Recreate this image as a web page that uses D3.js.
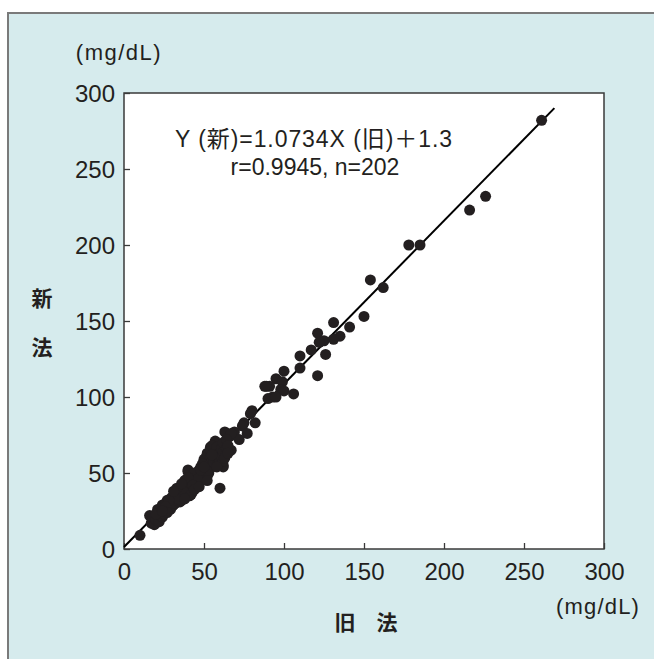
<!DOCTYPE html>
<html>
<head>
<meta charset="utf-8">
<script src="https://cdn.jsdelivr.net/npm/d3@7"></script>
<style>
  body { margin: 0; background: #ffffff; }
  svg { display: block; }
</style>
</head>
<body>
<div id="chart"></div>
<script>
// 旧法 (x) vs 新法 (y), mg/dL
var oldVals = [
  261, 226, 216, 185, 178, 162, 154, 150, 141, 131, 121, 135, 131, 125, 122, 126, 117, 110, 110, 121,
  100, 95, 99, 98, 106, 100, 93, 91, 89, 90, 95, 80, 79, 82, 75, 74, 69, 77, 63, 66,
  72, 57, 54, 60, 66, 52, 63, 50, 57, 62,
  88, 67, 63, 67, 62, 60, 52, 40, 38, 55,
  10, 16, 17, 18, 19, 20, 21, 22, 22, 23, 24, 24, 25, 25,
  26, 26, 27, 27, 28, 28, 29, 29, 30, 30,
  31, 31, 32, 32, 33, 33, 34, 34, 35, 35,
  36, 36, 37, 37, 38, 38, 38, 39, 39, 40, 40, 40,
  41, 41, 42, 42, 43, 43, 43, 44, 44, 45, 45, 45,
  46, 46, 47, 47, 47, 48, 48, 48, 49, 49, 50, 50, 50,
  51, 51, 51, 52, 52, 53, 53, 53, 54, 54, 54, 55, 55, 55,
  56, 56, 57, 57, 58, 58, 59, 59, 60, 60, 61, 61, 62, 62, 62, 63, 64, 64, 65, 65,
  30, 32, 35, 36, 39, 41, 44, 46, 49, 52, 34, 37, 28, 23, 20, 26, 40, 43, 48, 50,
  33, 36, 42, 44, 47, 52, 55, 58, 38, 27, 24, 31
];
var newVals = [
  282, 232, 223, 200, 200, 172, 177, 153, 146, 149, 142, 140, 138, 137, 136, 128, 131, 127, 119, 114,
  117, 112, 110, 105, 102, 104, 100, 107, 107, 99, 100, 91, 89, 83, 83, 81, 77, 76, 77, 74,
  72, 71, 67, 66, 65, 63, 61, 59, 56, 54,
  107, 76, 67, 65, 55, 40, 48, 52, 45, 67,
  9, 22, 17, 20, 16, 19, 26, 18, 23, 24, 29, 21, 27, 23,
  25, 30, 32, 28, 26, 30, 26, 33, 31, 28,
  35, 29, 30, 34, 36, 32, 39, 35, 31, 37,
  32, 38, 41, 35, 42, 45, 37, 40, 36, 51, 44, 39,
  35, 42, 46, 40, 45, 38, 49, 43, 47, 50, 41, 44,
  42, 48, 52, 45, 49, 54, 46, 50, 53, 47, 48, 56, 51,
  60, 53, 49, 55, 58, 52, 57, 50, 65, 60, 56, 68, 58, 54,
  62, 57, 59, 64, 67, 60, 62, 56, 63, 58, 66, 60, 64, 58, 70, 60, 72, 66, 68, 63,
  34, 37, 39, 35, 43, 45, 50, 46, 56, 51, 33, 38, 32, 27, 23, 28, 47, 42, 52, 54,
  40, 43, 36, 39, 41, 45, 62, 54, 33, 24, 25, 38
];
var xTicks = [0, 50, 100, 150, 200, 250, 300];
var yTicks = [0, 50, 100, 150, 200, 250, 300];
var slope = 1.0734;
var intercept = 1.3;
var lineEnd = 269;
var eqLine1 = "Y (新)=1.0734X (旧)＋1.3";
var eqLine2 = "r=0.9945, n=202";

var width = 654, height = 659;
var plotLeft = 124, plotRight = 604, plotTop = 93, plotBottom = 549;
var dotR = 5.5;
var dotColor = "#231f20";
var panelColor = "#d6ebed";
var latin = "'Liberation Sans', Arial, 'Noto Sans CJK JP', sans-serif";
var cjk = "'Noto Sans CJK JP', 'Liberation Sans', sans-serif";

var svg = d3.select("#chart").append("svg")
    .attr("width", width)
    .attr("height", height);

// panel
svg.append("rect")
    .attr("x", 8).attr("y", 13)
    .attr("width", width).attr("height", height)
    .attr("fill", panelColor);
svg.append("path")
    .attr("d", "M8," + height + "V13H" + width)
    .attr("fill", "none")
    .attr("stroke", "#7a7a7a")
    .attr("stroke-width", 2);

var x = d3.scaleLinear().domain([0, 300]).range([plotLeft, plotRight]);
var y = d3.scaleLinear().domain([0, 300]).range([plotBottom, plotTop]);

svg.append("rect")
    .attr("x", plotLeft).attr("y", plotTop)
    .attr("width", plotRight - plotLeft).attr("height", plotBottom - plotTop)
    .attr("fill", "#ffffff")
    .attr("stroke", "#3a3a3a")
    .attr("stroke-width", 1.5);

// inward ticks
var xAxis = svg.append("g")
    .attr("transform", "translate(0," + plotBottom + ")")
    .call(d3.axisBottom(x).tickValues(xTicks).tickSize(-6).tickPadding(14));
var yAxis = svg.append("g")
    .attr("transform", "translate(" + plotLeft + ",0)")
    .call(d3.axisLeft(y).tickValues(yTicks).tickSize(-6).tickPadding(9));
[xAxis, yAxis].forEach(function(g){
    g.select(".domain").remove();
    g.selectAll(".tick line").attr("stroke", "#3a3a3a").attr("stroke-width", 1.3);
    g.selectAll(".tick text")
        .attr("fill", "#231f20")
        .style("font-family", latin)
        .style("font-size", "24px");
});
xAxis.selectAll(".tick text").attr("dy", "0.71em");
yAxis.selectAll(".tick text").attr("dy", "0.36em");

// regression line
svg.append("line")
    .attr("x1", x(0)).attr("y1", y(intercept))
    .attr("x2", x(lineEnd)).attr("y2", y(slope * lineEnd + intercept))
    .attr("stroke", "#000000")
    .attr("stroke-width", 2);

var points = oldVals.map(function(d, i){ return {o: d, n: newVals[i]}; });
svg.append("g")
    .selectAll("circle")
    .data(points)
    .enter()
    .append("circle")
    .attr("cx", function(d){ return x(d.o); })
    .attr("cy", function(d){ return y(d.n); })
    .attr("r", dotR)
    .attr("fill", dotColor);

// equation
svg.append("text")
    .attr("x", 175).attr("y", 147)
    .attr("textLength", 277)
    .attr("lengthAdjust", "spacing")
    .attr("fill", "#231f20")
    .style("font-family", latin)
    .style("font-size", "23px")
    .text(eqLine1);
svg.append("text")
    .attr("x", 315).attr("y", 175)
    .attr("text-anchor", "middle")
    .attr("fill", "#231f20")
    .style("font-family", latin)
    .style("font-size", "23px")
    .text(eqLine2);

// units
svg.append("text")
    .attr("x", 119).attr("y", 60)
    .attr("text-anchor", "middle")
    .attr("fill", "#231f20")
    .style("font-family", latin)
    .style("font-size", "22px")
    .style("letter-spacing", "1.5px")
    .text("(mg/dL)");
svg.append("text")
    .attr("x", 598).attr("y", 614)
    .attr("text-anchor", "middle")
    .attr("fill", "#231f20")
    .style("font-family", latin)
    .style("font-size", "22px")
    .style("letter-spacing", "1.2px")
    .text("(mg/dL)");

// axis titles
svg.append("text")
    .attr("x", 42).attr("y", 306)
    .attr("text-anchor", "middle")
    .attr("fill", "#231f20")
    .style("font-family", cjk)
    .style("font-weight", "bold")
    .style("font-size", "21px")
    .text("新");
svg.append("text")
    .attr("x", 42).attr("y", 355)
    .attr("text-anchor", "middle")
    .attr("fill", "#231f20")
    .style("font-family", cjk)
    .style("font-weight", "bold")
    .style("font-size", "21px")
    .text("法");
svg.append("text")
    .attr("x", 366).attr("y", 630)
    .attr("text-anchor", "middle")
    .attr("fill", "#231f20")
    .style("font-family", cjk)
    .style("font-weight", "bold")
    .style("font-size", "21px")
    .text("旧　法");
</script>
</body>
</html>
